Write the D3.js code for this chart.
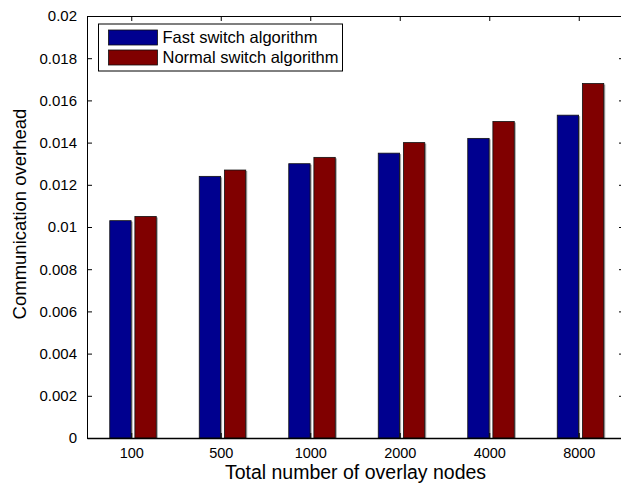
<!DOCTYPE html>
<html>
<head>
<meta charset="utf-8">
<script src="https://cdn.jsdelivr.net/npm/d3@7"></script>
<style>
  body { margin: 0; background: #fff; }
  svg { display: block; font-family: "Liberation Sans", Arial, sans-serif; }
</style>
</head>
<body>
<div id="chart"></div>
<script>
const categories = ['100', '500', '1000', '2000', '4000', '8000'];
const series = ['Fast switch algorithm', 'Normal switch algorithm'];
const fastValues = [0.0103, 0.0124, 0.0130, 0.0135, 0.0142, 0.0153];
const normalValues = [0.0105, 0.0127, 0.0133, 0.0140, 0.0150, 0.0168];
const yTicks = [0, 0.002, 0.004, 0.006, 0.008, 0.01, 0.012, 0.014, 0.016, 0.018, 0.02];

const width = 621, height = 490;
const margin = {top: 16, right: -3, bottom: 52, left: 87};

const svg = d3.select('#chart').append('svg')
  .attr('width', width)
  .attr('height', height);

const x = d3.scaleBand()
  .domain(categories)
  .range([margin.left, width - margin.right]);

const x1 = d3.scaleBand()
  .domain(series)
  .range([-22, 24.5])
  .paddingInner(0.15);

const y = d3.scaleLinear()
  .domain([0, 0.02])
  .range([height - margin.bottom, margin.top]);

const colors = d3.scaleOrdinal(series, ['#00008f', '#800000']);

const data = categories.map((c, i) => ({cat: c, values: [fastValues[i], normalValues[i]]}));

// bars (with a little grey shadow like matlab)
const groups = svg.append('g')
  .selectAll('g')
  .data(data)
  .join('g')
    .attr('transform', d => `translate(${x(d.cat) + x.bandwidth() / 2},0)`);

const bars = groups.selectAll('g')
  .data(d => d.values.map((v, i) => ({key: series[i], value: v})))
  .join('g');

bars.append('rect')
    .attr('x', d => x1(d.key) + 1.5)
    .attr('y', d => y(d.value) + 1)
    .attr('width', x1.bandwidth())
    .attr('height', d => y(0) - y(d.value) - 1)
    .attr('fill', '#a0a0a0');

bars.append('rect')
    .attr('x', d => x1(d.key))
    .attr('y', d => y(d.value))
    .attr('width', x1.bandwidth())
    .attr('height', d => y(0) - y(d.value))
    .attr('fill', d => colors(d.key))
    .attr('stroke', '#111')
    .attr('stroke-width', 0.8);

// axes: ticks point inward on all four sides
const x0 = margin.left, x2 = width - margin.right;
const yb = height - margin.bottom, yt = margin.top;

svg.append('g')
    .attr('transform', `translate(0,${yb})`)
    .call(d3.axisBottom(x).tickSize(-5).tickPadding(9.5).tickSizeOuter(0))
    .call(g => g.select('.domain').attr('stroke-width', 1.5))
    .call(g => g.selectAll('text').attr('font-size', 14.5).attr('fill', '#000')
      .attr('font-family', '"Liberation Sans", Arial, sans-serif'));

svg.append('g')
    .attr('transform', `translate(0,${yt})`)
    .call(d3.axisTop(x).tickSize(-5).tickSizeOuter(0).tickFormat(''));

svg.append('g')
    .attr('transform', `translate(${x0},0)`)
    .call(d3.axisLeft(y).tickValues(yTicks).tickSize(-5).tickPadding(10).tickSizeOuter(0)
      .tickFormat(d => d === 0 ? '0' : d3.format('~g')(d)))
    .call(g => g.selectAll('text').attr('font-size', 15).attr('fill', '#000')
      .attr('font-family', '"Liberation Sans", Arial, sans-serif'));

svg.append('g')
    .attr('transform', `translate(${x2},0)`)
    .call(d3.axisRight(y).tickValues(yTicks).tickSize(-5).tickSizeOuter(0).tickFormat(''));

// axis titles
svg.append('text')
    .attr('x', (x0 + x2) / 2)
    .attr('y', 479)
    .attr('text-anchor', 'middle')
    .attr('font-size', 19.5)
    .text('Total number of overlay nodes');

svg.append('text')
    .attr('transform', `translate(26,214) rotate(-90)`)
    .attr('text-anchor', 'middle')
    .attr('font-size', 18.5)
    .text('Communication overhead');

// legend
const legend = svg.append('g').attr('transform', 'translate(98.5,24)');

legend.append('rect')
    .attr('width', 244)
    .attr('height', 47)
    .attr('fill', '#fff')
    .attr('stroke', '#000')
    .attr('stroke-width', 1);

const items = legend.selectAll('g.item')
  .data(series)
  .join('g')
    .attr('class', 'item')
    .attr('transform', (d, i) => `translate(0,${6 + i * 20})`);

items.append('rect')
    .attr('x', 10)
    .attr('width', 49)
    .attr('height', 15)
    .attr('fill', colors)
    .attr('stroke', '#111')
    .attr('stroke-width', 0.8);

items.append('text')
    .attr('x', 64)
    .attr('y', 7.5)
    .attr('dy', '0.35em')
    .attr('font-size', 16.5)
    .text(d => d);
</script>
</body>
</html>
